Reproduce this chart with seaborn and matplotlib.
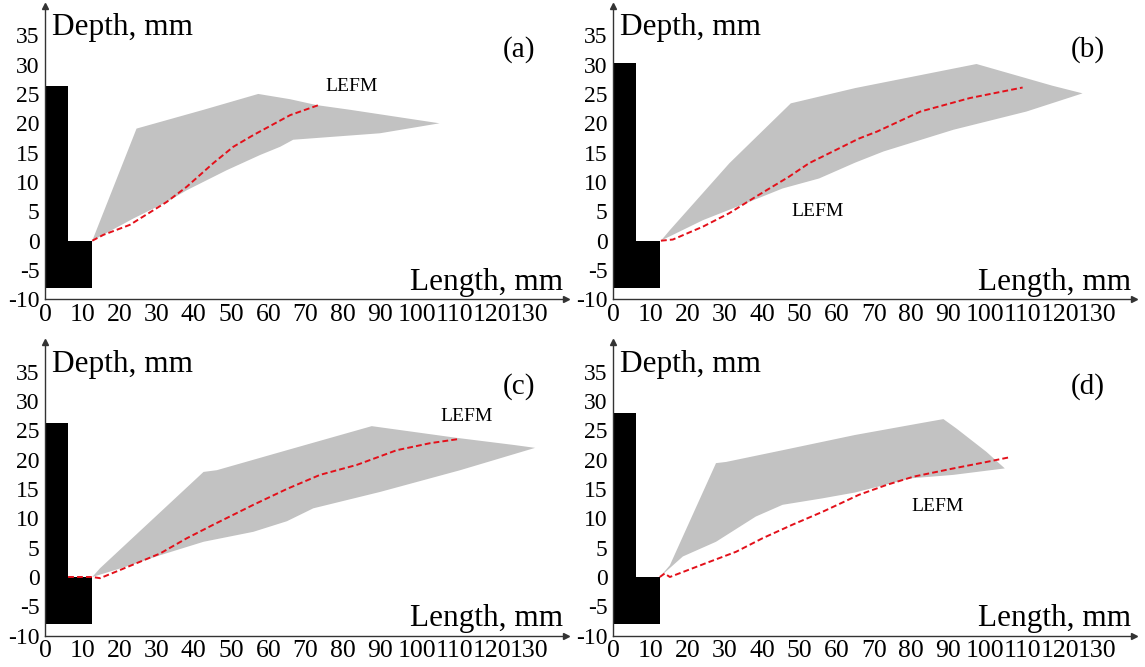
import numpy as np
import matplotlib
matplotlib.use("Agg")
import matplotlib.pyplot as plt
import seaborn as sns
import pandas as pd

# ---------------- data (mm) ----------------
panel_labels = ["(a)", "(b)", "(c)", "(d)"]

# specimen (black L-shape) geometry
bar_width = 6.2
notch_end = 12.6
specimen_bottom = -8.0
specimen_top = [26.4, 30.2, 26.3, 27.9]

# grey scatter band: upper and lower boundaries
upper_a_x = [12.7, 24.6, 42.6, 57.3, 65.9, 73.0, 82.0, 106.0]
upper_a_y = [0.0, 19.1, 22.3, 25.0, 24.1, 23.1, 22.3, 20.0]
lower_a_x = [12.7, 23.8, 32.7, 38.1, 48.8, 57.8, 63.2, 66.7, 90.0, 106.0]
lower_a_y = [0.0, 3.8, 6.6, 8.6, 12.0, 14.6, 16.0, 17.2, 18.3, 20.0]

upper_b_x = [12.8, 15.2, 31.2, 47.7, 65.0, 97.6, 118.0, 126.1]
upper_b_y = [0.0, 1.8, 13.2, 23.4, 26.0, 30.1, 26.4, 25.1]
lower_b_x = [12.8, 24.1, 35.7, 45.5, 55.3, 65.0, 72.6, 91.4, 111.0, 126.1]
lower_b_y = [0.0, 3.5, 6.4, 8.9, 10.6, 13.3, 15.2, 18.9, 22.0, 25.1]

upper_c_x = [12.7, 14.8, 42.6, 46.2, 65.0, 87.8, 110.7, 125.9, 131.7]
upper_c_y = [0.0, 1.5, 17.9, 18.2, 21.6, 25.7, 23.7, 22.5, 22.0]
lower_c_x = [12.7, 22.0, 30.9, 42.6, 56.0, 65.0, 72.1, 90.1, 111.6, 131.7]
lower_c_y = [0.0, 1.8, 3.7, 6.0, 7.7, 9.5, 11.7, 14.5, 18.2, 22.0]

upper_d_x = [12.5, 15.2, 27.6, 30.3, 45.5, 65.0, 82.5, 88.7, 92.2, 100.3, 105.2]
upper_d_y = [0.0, 2.0, 19.4, 19.6, 21.6, 24.2, 26.2, 26.9, 25.3, 21.3, 18.5]
lower_d_x = [12.5, 18.7, 27.6, 38.3, 45.5, 56.2, 65.0, 79.8, 91.4, 105.2]
lower_d_y = [0.0, 3.5, 6.0, 10.3, 12.3, 13.4, 14.4, 16.8, 17.4, 18.5]

# LEFM prediction (red dashed)
lefm_a_x = [12.7, 15.7, 22.8, 32.7, 38.1, 45.2, 50.6, 56.0, 65.9, 73.5]
lefm_a_y = [0.0, 1.0, 2.7, 6.6, 9.2, 13.2, 16.0, 18.0, 21.4, 23.1]
lefm_b_x = [12.8, 16.0, 24.1, 31.2, 38.3, 47.2, 52.6, 66.0, 70.9, 82.5, 95.8, 110.0]
lefm_b_y = [0.0, 0.2, 2.4, 4.7, 7.5, 10.9, 13.2, 17.4, 18.6, 22.0, 24.3, 26.1]
lefm_c_x = [6.2, 12.7, 14.8, 20.2, 30.9, 38.1, 45.2, 56.0, 65.0, 73.9, 83.8, 94.5, 103.5, 111.1]
lefm_c_y = [0.0, 0.0, -0.2, 1.2, 4.0, 6.6, 8.9, 12.3, 15.0, 17.4, 19.1, 21.6, 22.8, 23.5]
lefm_d_x = [12.5, 13.8, 15.2, 25.9, 33.0, 40.1, 48.1, 56.2, 66.0, 73.5, 80.7, 91.4, 100.3, 106.5]
lefm_d_y = [0.0, 0.6, 0.0, 2.6, 4.3, 6.6, 8.9, 11.1, 14.0, 15.7, 17.1, 18.5, 19.6, 20.4]

lefm_label_xy = [(75.3, 26.2), (47.8, 4.9), (106.2, 27.3), (80.1, 12.0)]

x_ticks = list(range(0, 140, 10))
y_ticks = list(range(-10, 40, 5))

uppers = [(upper_a_x, upper_a_y), (upper_b_x, upper_b_y), (upper_c_x, upper_c_y), (upper_d_x, upper_d_y)]
lowers = [(lower_a_x, lower_a_y), (lower_b_x, lower_b_y), (lower_c_x, lower_c_y), (lower_d_x, lower_d_y)]
lefms = [(lefm_a_x, lefm_a_y), (lefm_b_x, lefm_b_y), (lefm_c_x, lefm_c_y), (lefm_d_x, lefm_d_y)]

# ---------------- style ----------------
sns.set_theme(style="white")
plt.rcParams['font.family'] = ['Liberation Serif', 'DejaVu Serif']

fig = plt.figure(figsize=(11.45, 6.67), dpi=100)

ax_w = 521 / 1145
ax_h = 293.5 / 667
positions = [
    (45 / 1145, (667 - 299.4) / 667),
    (613.3 / 1145, (667 - 299.4) / 667),
    (45 / 1145, (667 - 635.7) / 667),
    (613.3 / 1145, (667 - 635.7) / 667),
]

grey = "#c2c2c2"
axis_col = "#333333"

for i in range(4):
    l, b = positions[i]
    ax = fig.add_axes([l, b, ax_w, ax_h])
    ax.set_xlim(0, 140)
    ax.set_ylim(-10, 40)

    # grey band
    ux, uy = uppers[i]
    lx, ly = lowers[i]
    px = list(ux) + list(lx[::-1])
    py = list(uy) + list(ly[::-1])
    ax.fill(px, py, color=grey, lw=0, zorder=1)

    # specimen
    top = specimen_top[i]
    sx = [0, notch_end, notch_end, bar_width, bar_width, 0]
    sy = [specimen_bottom, specimen_bottom, 0, 0, top, top]
    ax.fill(sx, sy, color="black", lw=0, zorder=2)

    # LEFM line
    fx, fy = lefms[i]
    df = pd.DataFrame({"x": fx, "y": fy})
    sns.lineplot(data=df, x="x", y="y", sort=False, ax=ax, color="#e3101a",
                 lw=1.4, zorder=3, estimator=None)
    ax.lines[-1].set_dashes([3, 1.6])

    # spines
    for s in ["top", "right"]:
        ax.spines[s].set_visible(False)
    for s in ["left", "bottom"]:
        ax.spines[s].set_color(axis_col)
        ax.spines[s].set_linewidth(1.0)
    ax.plot(1, 0, ">", color=axis_col, ms=4, transform=ax.transAxes, clip_on=False)
    ax.plot(0, 1, "^", color=axis_col, ms=4, transform=ax.transAxes, clip_on=False)

    ax.set_xticks(x_ticks)
    ax.set_yticks(y_ticks)
    ax.set_xticklabels([str(t) for t in x_ticks], fontsize=18.5)
    ax.set_yticklabels([str(t) for t in y_ticks], fontsize=17)
    ax.tick_params(axis="x", direction="in", length=3, width=0.8, pad=3, labelcolor="black")
    ax.tick_params(axis="y", direction="out", length=3, width=0.8, pad=1, labelcolor="black")
    for t in ax.get_xticklines() + ax.get_yticklines():
        t.set_color(axis_col)
    ax.set_xlabel("")
    ax.set_ylabel("")
    ax.grid(False)
    ax.set_facecolor("white")

    ax.text(1.8, 35.0, "Depth, mm", fontsize=22.5, ha="left", va="baseline", color="black")
    ax.text(139.2, -8.4, "Length, mm", fontsize=22.5, ha="right", va="baseline", color="black")
    ax.text(127.5, 32.5, panel_labels[i], fontsize=21, ha="center", va="center", color="black")
    lx0, ly0 = lefm_label_xy[i]
    ax.text(lx0, ly0, "LEFM", fontsize=14, ha="left", va="center", color="black")

fig.savefig("out.png", dpi=100, facecolor="white")
